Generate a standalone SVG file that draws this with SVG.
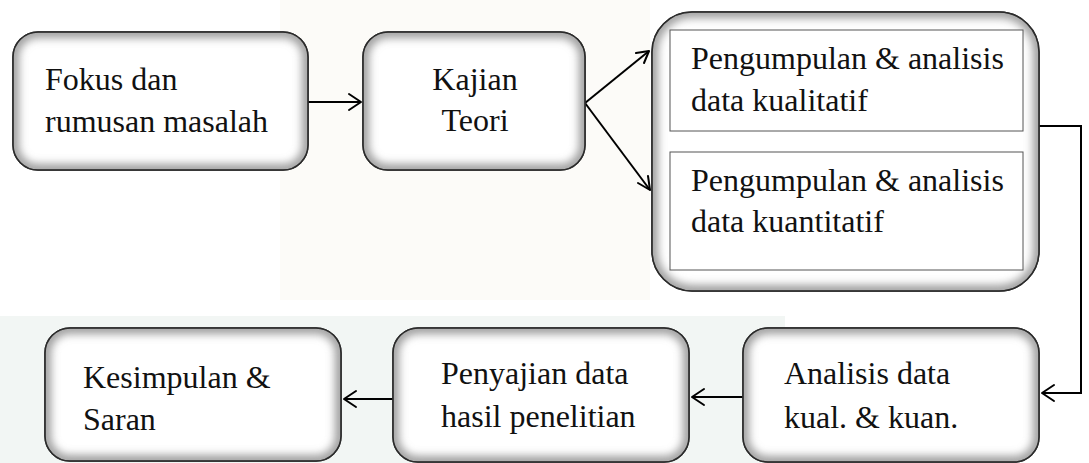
<svg xmlns="http://www.w3.org/2000/svg" width="1089" height="463" viewBox="0 0 1089 463">
<style>
.box{fill:#ffffff;stroke:#2b2b2b;stroke-width:1.5}
.sh{fill:none;stroke:#8c8c8c;stroke-width:12;stroke-opacity:0.85}
.bd{fill:none;stroke:#2b2b2b;stroke-width:1.5}
.inr{fill:#ffffff;stroke:#555555;stroke-width:1}
.t{font-family:"Liberation Serif","Times New Roman",serif;font-size:32px;fill:#111111}
.c{fill:none;stroke:#000000;stroke-width:2}
.ah{fill:none;stroke:#000000;stroke-width:2;stroke-linecap:round;stroke-linejoin:round}
.wm{stroke:none}
</style>
<defs>
<filter id="blur" x="-20%" y="-20%" width="140%" height="140%">
<feGaussianBlur stdDeviation="4.5"/>
</filter>
<clipPath id="cp1"><rect x="13" y="32" width="295" height="138" rx="25"/></clipPath>
<clipPath id="cp2"><rect x="363" y="32" width="222" height="138" rx="25"/></clipPath>
<clipPath id="cp3"><rect x="652" y="12" width="387" height="279" rx="40"/></clipPath>
<clipPath id="cp4"><rect x="743" y="328" width="296" height="134" rx="25"/></clipPath>
<clipPath id="cp5"><rect x="393" y="328" width="296" height="134" rx="25"/></clipPath>
<clipPath id="cp6"><rect x="45" y="328" width="296" height="133" rx="25"/></clipPath>
</defs>
<rect width="1089" height="463" fill="#ffffff"/>
<g id="watermark">
<rect class="wm" x="280" y="0" width="370" height="300" fill="#fcfbf8"/>
<rect class="wm" x="0" y="316" width="785" height="147" fill="#f2f6f4"/>
</g>
<g id="connectors">
<line class="c" x1="308" y1="102" x2="361" y2="102"/>
<polyline class="ah" points="349,94 361,102 349,110"/>
<line class="c" x1="585" y1="103" x2="649" y2="51"/>
<polyline class="ah" points="636,53 649,51 644,63"/>
<line class="c" x1="585" y1="103" x2="650" y2="190"/>
<polyline class="ah" points="638,183 650,190 648,176"/>
<polyline class="c" points="1039,126 1081,126 1081,393 1042,393"/>
<polyline class="ah" points="1054,385 1042,393 1054,401"/>
<line class="c" x1="743" y1="397" x2="692" y2="397"/>
<polyline class="ah" points="704,389 692,397 704,405"/>
<line class="c" x1="393" y1="399" x2="344" y2="399"/>
<polyline class="ah" points="356,391 344,399 356,407"/>
</g>
<g id="fokus">
<rect class="box" x="13" y="32" width="295" height="138" rx="25"/>
<g clip-path="url(#cp1)"><rect class="sh" x="13" y="32" width="295" height="138" rx="25" filter="url(#blur)"/></g>
<rect class="bd" x="13" y="32" width="295" height="138" rx="25"/>
<text class="t" x="45" y="90">Fokus dan</text>
<text class="t" x="45" y="132">rumusan masalah</text>
</g>
<g id="kajian">
<rect class="box" x="363" y="32" width="222" height="138" rx="25"/>
<g clip-path="url(#cp2)"><rect class="sh" x="363" y="32" width="222" height="138" rx="25" filter="url(#blur)"/></g>
<rect class="bd" x="363" y="32" width="222" height="138" rx="25"/>
<text class="t" x="475" y="90" text-anchor="middle">Kajian</text>
<text class="t" x="475" y="131" text-anchor="middle">Teori</text>
</g>
<g id="pengumpulan">
<rect class="box" x="652" y="12" width="387" height="279" rx="40"/>
<g clip-path="url(#cp3)"><rect class="sh" x="652" y="12" width="387" height="279" rx="40" filter="url(#blur)"/></g>
<rect class="bd" x="652" y="12" width="387" height="279" rx="40"/>
</g>
<g id="kualitatif">
<rect class="inr" x="670" y="30" width="353" height="101"/>
<text class="t" x="691" y="69">Pengumpulan &amp; analisis</text>
<text class="t" x="691" y="111">data kualitatif</text>
</g>
<g id="kuantitatif">
<rect class="inr" x="670" y="152" width="353" height="118"/>
<text class="t" x="691" y="191">Pengumpulan &amp; analisis</text>
<text class="t" x="691" y="232">data kuantitatif</text>
</g>
<g id="analisis">
<rect class="box" x="743" y="328" width="296" height="134" rx="25"/>
<g clip-path="url(#cp4)"><rect class="sh" x="743" y="328" width="296" height="134" rx="25" filter="url(#blur)"/></g>
<rect class="bd" x="743" y="328" width="296" height="134" rx="25"/>
<text class="t" x="784" y="384">Analisis data</text>
<text class="t" x="784" y="428">kual. &amp; kuan.</text>
</g>
<g id="penyajian">
<rect class="box" x="393" y="328" width="296" height="134" rx="25"/>
<g clip-path="url(#cp5)"><rect class="sh" x="393" y="328" width="296" height="134" rx="25" filter="url(#blur)"/></g>
<rect class="bd" x="393" y="328" width="296" height="134" rx="25"/>
<text class="t" x="441" y="384">Penyajian data</text>
<text class="t" x="441" y="427">hasil penelitian</text>
</g>
<g id="kesimpulan">
<rect class="box" x="45" y="328" width="296" height="133" rx="25"/>
<g clip-path="url(#cp6)"><rect class="sh" x="45" y="328" width="296" height="133" rx="25" filter="url(#blur)"/></g>
<rect class="bd" x="45" y="328" width="296" height="133" rx="25"/>
<text class="t" x="83" y="388">Kesimpulan &amp;</text>
<text class="t" x="83" y="430">Saran</text>
</g>
</svg>
